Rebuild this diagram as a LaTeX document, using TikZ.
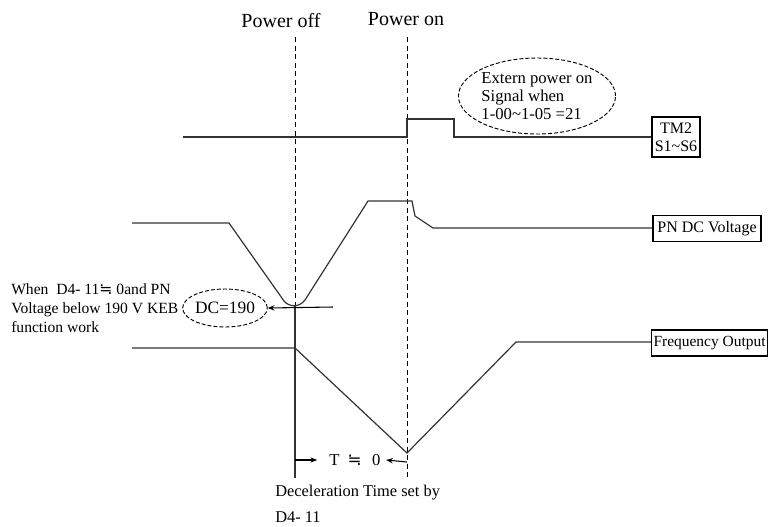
\documentclass[tikz,border=0pt]{standalone}
\usepackage{fontspec}
\setmainfont{Liberation Serif}
\newfontfamily\symfont{DejaVu Sans}
\usetikzlibrary{shapes.geometric,arrows.meta}
\newcommand{\approxeq}{{\symfont ≒}}
\begin{document}
\begin{tikzpicture}[x=0.75pt,y=-0.75pt,
  sig/.style={line width=0.9pt, draw=black!80},
  guide/.style={line width=0.65pt, dash pattern=on 3.8pt off 2.6pt},
  solidguide/.style={line width=0.9pt, draw=black!80},
  lbl/.style={font=\fontsize{12.5}{14}\selectfont, inner sep=0pt},
  toplbl/.style={font=\fontsize{15}{17}\selectfont, inner sep=0pt},
  boxlbl/.style={draw, line width=0.8pt, font=\fontsize{12}{13}\selectfont, inner sep=1pt},
  note/.style={ellipse, draw, dash pattern=on 3pt off 1.5pt, line width=0.7pt, inner sep=0pt, font=\fontsize{12.5}{13.5}\selectfont},
  tip/.style={-{Stealth[length=5pt,width=4pt]}, line width=0.8pt}]
\useasboundingbox (0,0) rectangle (772,526);
\clip (0,0) rectangle (772,526);

% titles
\node[toplbl] (poff) at (281,21) {Power off};
\node[toplbl] (pon) at (406,19) {Power on};

% guide lines
\coordinate (offtop) at (295,37);
\coordinate (offmid) at (295,305);
\coordinate (offbot) at (295,478);
\coordinate (ontop) at (407,37);
\coordinate (onbot) at (407,478);
\draw[guide] (offtop) -- (offmid);
\draw[solidguide] (offmid) -- (offbot);
\draw[guide] (ontop) -- (onbot);

% boxes
\node[boxlbl, minimum width=36pt, minimum height=30pt, align=center, font=\fontsize{12}{13.5}\selectfont] (tm2) at (676,137) {TM2\\S1\textasciitilde S6};
\node[boxlbl, minimum width=81pt, minimum height=20pt] (pn) at (707,228.5) {PN DC Voltage};
\node[boxlbl, minimum height=19.5pt, anchor=west, inner xsep=1.5pt, font=\fontsize{11.6}{13}\selectfont] (fo) at (651,343) {Frequency Output};

% ellipses
\node[note, minimum width=117pt, minimum height=57pt, align=left] (ext) at (537,96) {Extern power on\\Signal when\\1-00\textasciitilde 1-05 =21};
\node[note, minimum width=60pt, minimum height=28.5pt, font=\fontsize{13}{14}\selectfont] (dc) at (225,308) {DC=190};

% TM2 signal
\coordinate (s0) at (183,137);
\draw[sig] (s0) -- (407,137) -- (407,119) -- (454,119) -- (454,137) -- (tm2.west);

% PN DC voltage
\coordinate (p0) at (132,223);
\draw[sig] (p0) -- (229,223) -- (284,301) .. controls (289,307) and (299,308) .. (305,300)
  -- (368,201) -- (412,201) -- (415,216) -- (433,228) -- (pn.west |- 0,228);

% DC=190 arrow
\coordinate (dcline) at (333,307);
\draw[tip] (dcline) -- (dc.east);

% Frequency output
\coordinate (f0) at (132,348);
\draw[sig] (f0) -- (295,348) -- (407,453) -- (516,342) -- (fo.west |- 0,342);

% T = 0 arrows
\coordinate (ta) at (295,460);
\coordinate (tb) at (407,462);
\node[lbl, inner xsep=1pt] (tz) at (355,460) {T\hspace{6pt}\approxeq\hspace{8pt}0};
\draw[tip] (ta) -- ([xshift=-8pt]tz.west);
\draw[tip] (tb) -- ([xshift=3pt]tz.east);

% left note
\node[lbl, anchor=west, align=left, font=\fontsize{11.7}{14.5}\selectfont] (when) at (11,308)
  {When\enspace D4- 11\approxeq\ 0and PN\\Voltage below 190 V KEB\\function work};

% bottom note
\node[lbl, anchor=west, font=\fontsize{12.3}{14}\selectfont] (dec1) at (275,493) {Deceleration Time set by};
\node[lbl, anchor=west, font=\fontsize{12.3}{14}\selectfont] (dec2) at (275,517) {D4- 11};
\end{tikzpicture}
\end{document}
